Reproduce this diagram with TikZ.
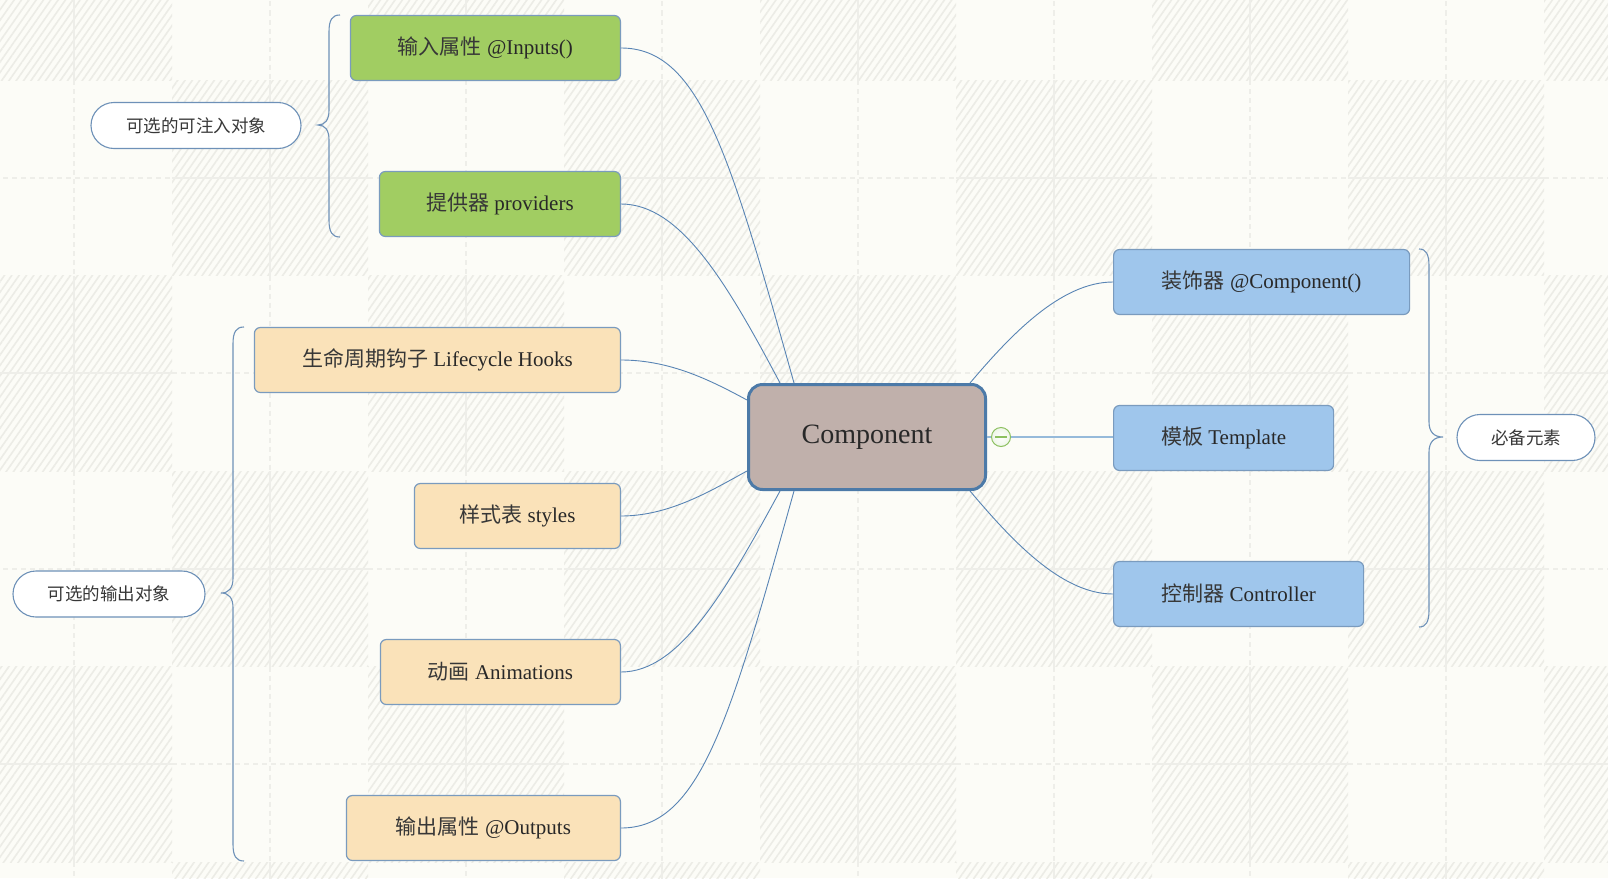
\documentclass[tikz,border=0pt]{standalone}
\usepackage{fontspec}
\setmainfont{Liberation Serif}
\newfontfamily\cjk{Noto Sans CJK SC}
\usetikzlibrary{patterns.meta}
\definecolor{bgc}{RGB}{252,252,247}
\definecolor{hatchc}{RGB}{236,236,230}
\definecolor{gridc}{RGB}{238,238,233}
\definecolor{greenf}{RGB}{161,205,98}
\definecolor{orangef}{RGB}{250,226,185}
\definecolor{bluef}{RGB}{159,198,236}
\definecolor{boxb}{RGB}{122,155,190}
\definecolor{compf}{RGB}{192,176,171}
\definecolor{compb}{RGB}{76,122,168}
\definecolor{connc}{RGB}{88,132,180}
\definecolor{bracec}{RGB}{110,145,184}
\definecolor{tplc}{RGB}{150,186,218}
\definecolor{minusc}{RGB}{140,192,96}
\definecolor{txtc}{RGB}{40,40,40}
\definecolor{cjkc}{RGB}{55,55,55}
\tikzset{
  mainbox/.style={draw=boxb, line width=1.2pt, rounded corners=6pt, minimum height=65pt,
    inner sep=0pt, text=txtc, font=\fontsize{21}{25}\selectfont},
  gbox/.style={mainbox, fill=greenf},
  obox/.style={mainbox, fill=orangef},
  bbox/.style={mainbox, fill=bluef},
  bubble/.style={draw=bracec, line width=1.1pt, fill=white, rounded corners=23pt,
    minimum height=46pt, inner sep=0pt, text=cjkc, font=\fontsize{17.5}{22}\selectfont\cjk},
  comp/.style={draw=compb, line width=3pt, fill=compf, rounded corners=14pt,
    minimum width=237pt, minimum height=105pt, inner sep=0pt, text=txtc,
    font=\fontsize{28}{32}\selectfont},
  conn/.style={draw=connc, line width=0.9pt},
  bracepath/.style={draw=bracec, line width=1.1pt},
}
\newcommand{\zh}[1]{{\color{cjkc}\cjk #1}}
\begin{document}
\begin{tikzpicture}[x=1pt,y=-1pt]
\useasboundingbox (0,0) rectangle (1608,878);
% background
\begin{scope}
\clip (0,0) rectangle (1608,878);
\fill[bgc] (0,0) rectangle (1608,878);
\foreach \i in {0,...,8} {
  \foreach \j in {0,...,5} {
    \pgfmathtruncatemacro\hpar{mod(\i+\j,2)}
    \pgfmathsetmacro\cx{-24+196*\i}
    \pgfmathsetmacro\cy{-115.5+195.5*\j}
    \ifnum\hpar=0
      \fill[pattern={Lines[angle=55,distance=6pt,line width=1.6pt]}, pattern color=hatchc]
        (\cx,\cy) rectangle ++(196,195.5);
      \draw[gridc, line width=2.4pt] (\cx+98,\cy) -- ++(0,195.5);
      \draw[gridc, line width=2.4pt] (\cx,\cy+97.75) -- ++(196,0);
    \else
      \draw[gridc, line width=2pt, dash pattern=on 5pt off 4pt] (\cx+98,\cy) -- ++(0,195.5);
      \draw[gridc, line width=2pt, dash pattern=on 5pt off 4pt] (\cx,\cy+97.75) -- ++(196,0);
    \fi
  }
}
\end{scope}

% central node
\node[comp] (comp) at (867,437) {Component};

% left nodes
\node[gbox, minimum width=270pt, anchor=east] (inputs) at (621,48) {\zh{输入属性} @Inputs()};
\node[gbox, minimum width=241pt, anchor=east] (providers) at (621,204) {\zh{提供器} providers};
\node[obox, minimum width=366pt, anchor=east] (hooks) at (621,360) {\zh{生命周期钩子} Lifecycle Hooks};
\node[obox, minimum width=206pt, anchor=east] (styles) at (621,516) {\zh{样式表} styles};
\node[obox, minimum width=240pt, anchor=east] (anims) at (621,672) {\zh{动画} Animations};
\node[obox, minimum width=274pt, anchor=east] (outputs) at (621,828) {\zh{输出属性} @Outputs};

% right nodes
\node[bbox, minimum width=296pt, anchor=west] (deco) at (1113,282) {\zh{装饰器} @Component()};
\node[bbox, minimum width=220pt, anchor=west] (tpl) at (1113,438) {\zh{模板} Template};
\node[bbox, minimum width=250pt, anchor=west] (ctrl) at (1113,594) {\zh{控制器} Controller};

% bubbles
\node[bubble, minimum width=210pt] (inject) at (196,125.5) {可选的可注入对象};
\node[bubble, minimum width=192pt] (outopt) at (109,594) {可选的输出对象};
\node[bubble, minimum width=138pt] (required) at (1526,437.5) {必备元素};

% collapse circle
\node[circle, draw=minusc, line width=1pt, inner color=white, outer color=minusc!15,
  minimum size=19pt, inner sep=0pt] (col) at (1001,437) {};
\draw[minusc, line width=1.6pt] ([xshift=-6pt]col.center) -- ([xshift=6pt]col.center);

% connectors
\draw[conn] (inputs.east) .. controls (700,48) and (730,155) .. ([xshift=-73pt]comp.north);
\draw[conn] (providers.east) .. controls (680,204) and (726,281) .. ([xshift=-87pt]comp.north);
\draw[conn] (hooks.east) .. controls (670,360) and (710,380) .. ([yshift=37pt]comp.west);
\draw[conn] (styles.east) .. controls (670,516) and (712,490) .. ([yshift=-34pt]comp.west);
\draw[conn] (anims.east) .. controls (680,672) and (726,590) .. ([xshift=-87pt]comp.south);
\draw[conn] (outputs.east) .. controls (700,828) and (730,720) .. ([xshift=-73pt]comp.south);
\draw[conn] ([xshift=103pt]comp.north) .. controls (1009,337) and (1060,282) .. (deco.west);
\draw[conn] ([xshift=103pt]comp.south) .. controls (1009,537) and (1060,594) .. (ctrl.west);
\draw[tplc, line width=1.6pt] (comp.east) -- (col.west);
\draw[tplc, line width=1.6pt] (col.east) -- (tpl.west |- col.east);

% braces
\draw[bracepath] (340,15) .. controls (332,15) and (329,20) .. (329,32) -- (329,110)
  .. controls (329,120) and (325,125) .. (318,125)
  .. controls (325,125) and (329,130) .. (329,140) -- (329,220)
  .. controls (329,232) and (332,237) .. (340,237);
\draw[bracepath] (244,327) .. controls (236,327) and (233,332) .. (233,344) -- (233,578)
  .. controls (233,588) and (229,593) .. (221,593)
  .. controls (229,593) and (233,598) .. (233,608) -- (233,844)
  .. controls (233,856) and (236,861) .. (244,861);
\draw[bracepath] (1419,249) .. controls (1426,249) and (1429,254) .. (1429,266) -- (1429,422)
  .. controls (1429,432) and (1434,437) .. (1443,437)
  .. controls (1434,437) and (1429,442) .. (1429,452) -- (1429,610)
  .. controls (1429,622) and (1426,627) .. (1419,627);
\end{tikzpicture}
\end{document}
